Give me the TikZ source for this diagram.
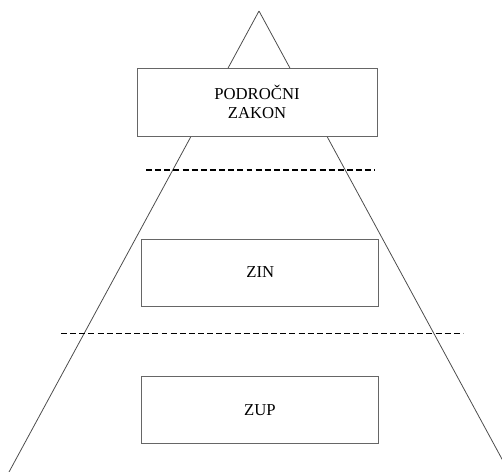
\documentclass[tikz,border=0pt]{standalone}
\usepackage{fontspec}
\setmainfont{Liberation Serif}
\usepackage{tikz}
\tikzstyle{levelBox} = [rectangle, draw=black!60, fill=white, line width=0.5pt, minimum width=4.74cm, minimum height=1.34cm, align=center, inner sep=0pt, font=\fontsize{9.5}{10.4}\selectfont]
\tikzstyle{side} = [draw=black!70, line width=0.45pt]
\tikzstyle{limit} = [draw, dashed, line width=0.8pt, dash pattern=on 3.4pt off 1.8pt]

\begin{document}
\begin{tikzpicture}[x=0.02cm, y=-0.02cm]
    \useasboundingbox (0,0) rectangle (502,471);
    \clip (0,0) rectangle (502,471);

    % triangle
    \coordinate (apex) at (259,11);
    \coordinate (baseL) at (9,472);
    \coordinate (baseR) at (509,472);
    \path [side] (apex) -- (baseL);
    \path [side] (apex) -- (baseR);

    % dashed borders
    \coordinate (lim1a) at (146,170);
    \coordinate (lim1b) at (375,170);
    \coordinate (lim2a) at (61,333.5);
    \coordinate (lim2b) at (463,333.5);
    \path [limit] (lim1a) -- (lim1b);
    \path [limit] (lim2a) -- (lim2b);

    % nodes
    \node [levelBox, minimum width=4.8cm, minimum height=1.36cm] (zakon) at (257,102) {PODROČNI\\ZAKON};
    \node [levelBox] (zin) at (260.3,272.5) {ZIN};
    \node [levelBox] (zup) at (260,409.7) {ZUP};
\end{tikzpicture}
\end{document}
